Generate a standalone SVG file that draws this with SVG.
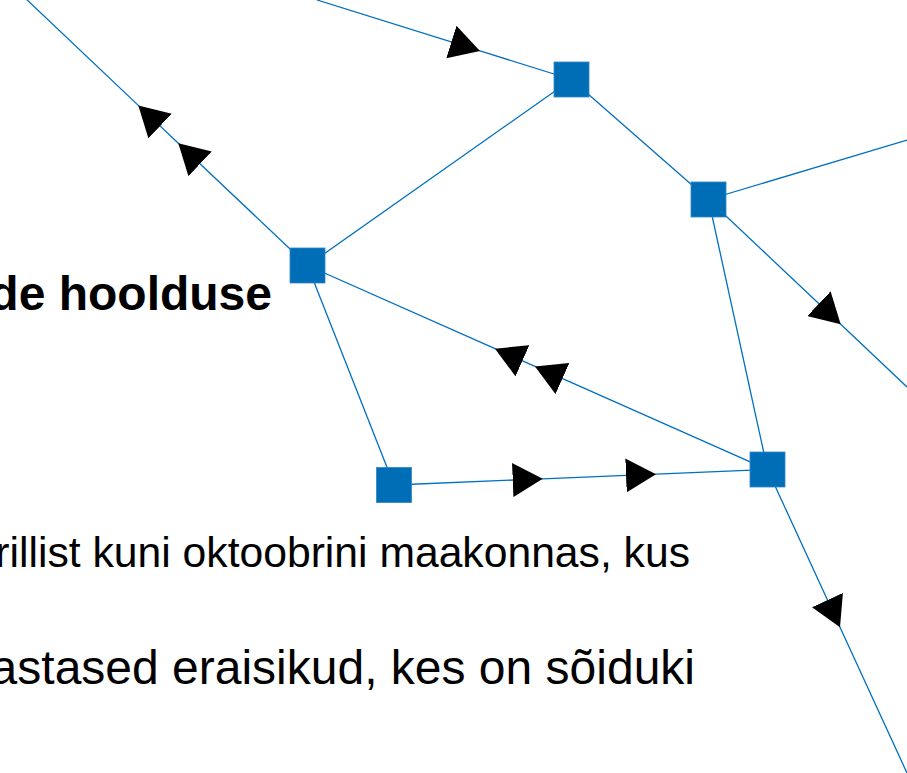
<svg xmlns="http://www.w3.org/2000/svg" width="907" height="773" viewBox="0 0 907 773">
<style>
.edge{fill:none;stroke:#0070C0;stroke-width:1.3}
.arr{marker-mid:url(#ah)}
.node rect{fill:#006EB6;stroke:#2F86C8;stroke-width:0.8}
.t{font-family:"Liberation Sans",Arial,sans-serif;fill:#000;text-anchor:end}
</style>
<defs>
<marker id="ah" markerUnits="userSpaceOnUse" viewBox="0 0 30 34" refX="30" refY="17" markerWidth="30" markerHeight="34" orient="auto">
<path d="M0,0 L30,17 L0,34 Z" fill="#000"/>
</marker>
</defs>
<rect width="907" height="773" fill="#fff"/>
<g id="connectors">
<path class="edge arr" d="M307.5,265.5 L178.3,143.2 L138.3,105.4 L24,-3"/>
<path class="edge arr" d="M317,0 L480,50.9 L571.5,79.5"/>
<path class="edge arr" d="M708.5,199.5 L840.7,324.3 L907,387"/>
<path class="edge arr" d="M767.5,469.5 L535,366.4 L495,348.65 L307.5,265.5"/>
<path class="edge arr" d="M394,485 L542.7,478.83 L656,474.13 L767.5,469.5"/>
<path class="edge arr" d="M767.5,469.5 L840,627.3 L907,773"/>
<path class="edge" d="M307.5,265.5 L571.5,79.5"/>
<path class="edge" d="M571.5,79.5 L708.5,199.5"/>
<path class="edge" d="M708.5,199.5 L907,140"/>
<path class="edge" d="M708.5,199.5 L767.5,469.5"/>
<path class="edge" d="M307.5,265.5 L394,485"/>
</g>
<g id="nodeA" class="node"><rect x="290" y="248" width="35" height="35"/></g>
<g id="nodeB" class="node"><rect x="554" y="62" width="35" height="35"/></g>
<g id="nodeC" class="node"><rect x="691" y="182" width="35" height="35"/></g>
<g id="nodeD" class="node"><rect x="376.5" y="467.5" width="35" height="35"/></g>
<g id="nodeE" class="node"><rect x="750" y="452" width="35" height="35"/></g>
<g id="texts">
<text class="t" x="272" y="310" font-size="48" font-weight="bold">de hoolduse</text>
<text class="t" x="690" y="567" font-size="42.67">rillist kuni oktoobrini maakonnas, kus</text>
<text class="t" x="695" y="684" font-size="48">astased eraisikud, kes on sõiduki</text>
</g>
</svg>
